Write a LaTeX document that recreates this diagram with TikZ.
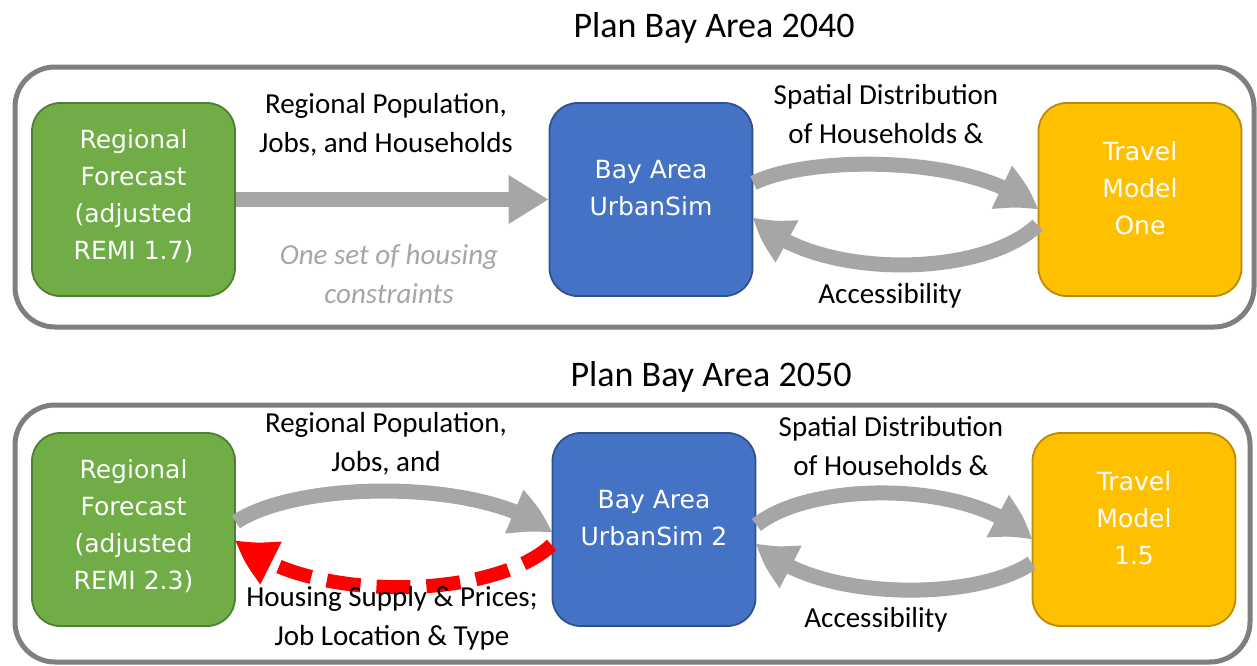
\documentclass[tikz,border=0pt]{standalone}
\usepackage{fontspec}
\setmainfont{Carlito}
\newfontfamily\boxfont{DejaVu Sans}
\usetikzlibrary{arrows.meta,bending}
\definecolor{framegray}{HTML}{7F7F7F}
\definecolor{arrowgray}{HTML}{A6A6A6}
\definecolor{boxgreen}{HTML}{70AD47}
\definecolor{boxgreenline}{HTML}{507E32}
\definecolor{boxblue}{HTML}{4472C4}
\definecolor{boxblueline}{HTML}{2F528F}
\definecolor{boxyellow}{HTML}{FFC000}
\definecolor{boxyellowline}{HTML}{BC8C00}
\definecolor{flowred}{HTML}{FF0000}
\begin{document}
\begin{tikzpicture}[x=1pt,y=-1pt,
  frame/.style={draw=framegray, line width=5pt, rounded corners=40pt},
  box/.style={draw, line width=1.8pt, rounded corners=28pt, minimum width=203pt, minimum height=193pt, inner sep=0pt},
  greenbox/.style={box, fill=boxgreen, draw=boxgreenline},
  bluebox/.style={box, fill=boxblue, draw=boxblueline},
  yellowbox/.style={box, fill=boxyellow, draw=boxyellowline},
  boxtext/.style={text=white, font=\boxfont\fontsize{25}{37}\selectfont, align=center, inner sep=0pt},
  lbl/.style={font=\fontsize{29}{39}\selectfont, align=center, inner sep=0pt},
  note/.style={lbl, text=arrowgray, font=\itshape\fontsize{29}{39}\selectfont},
  ttl/.style={font=\fontsize{36}{42}\selectfont, inner sep=0pt},
  flow/.style={draw=arrowgray, line width=15pt, -{Triangle[length=40pt,width=46pt,bend]}},
  redflow/.style={draw=flowred, line width=14pt, dash pattern=on 34pt off 16pt, -{Triangle[length=40pt,width=46pt,bend]}}
]
\useasboundingbox (0,0) rectangle (1257,665);
\fill[white] (0,0) rectangle (1257,665);

% ---------- top panel ----------
\node[ttl] (t1) at (714,28) {Plan Bay Area 2040};
\draw[frame] (15,67) rectangle (1254,327);

\node[greenbox] (g1) at (133.5,199.5) {};
\node[bluebox] (b1) at (651,199.5) {};
\node[yellowbox] (y1) at (1140,199.5) {};
\node[boxtext] (g1t) at (133.5,196) {Regional\\Forecast\\(adjusted\\REMI 1.7)};
\node[boxtext] (b1t) at (651,188) {Bay Area\\UrbanSim};
\node[boxtext] (y1t) at (1140,188) {Travel\\Model\\One};

\draw[flow] (g1.east) -- (b1.west);
\draw[flow] ([yshift=16.5pt]b1.east) .. controls (810,154.5) and (981,154.5) .. ([yshift=-10.5pt]y1.west);
\draw[flow] ([yshift=-25.5pt]y1.west) .. controls (981,279.5) and (810,279.5) .. ([yshift=-17.5pt]b1.east);

\node[lbl] (l1) at (386,125) {Regional Population,\\Jobs, and Households};
\node[note] (l2) at (389,274) {One set of housing\\constraints};
\node[lbl] (l3) at (886,114) {Spatial Distribution\\of Households \&};
\node[lbl] (l4) at (890,296) {Accessibility};

% ---------- bottom panel ----------
\node[ttl] (t2) at (711,377) {Plan Bay Area 2050};
\draw[frame] (15,405) rectangle (1250,662);

\node[greenbox] (g2) at (133.5,529.5) {};
\node[bluebox] (b2) at (654,529.5) {};
\node[yellowbox] (y2) at (1134,529.5) {};
\node[boxtext] (g2t) at (133.5,526) {Regional\\Forecast\\(adjusted\\REMI 2.3)};
\node[boxtext] (b2t) at (654,518) {Bay Area\\UrbanSim 2};
\node[boxtext] (y2t) at (1134,518) {Travel\\Model\\1.5};

\draw[flow] ([yshift=7.5pt]g2.east) .. controls (300,479) and (490,479) .. ([yshift=-3.5pt]b2.west);
\draw[redflow] ([yshift=-15.5pt]b2.west) .. controls (490,602) and (300,602) .. ([yshift=-10.5pt]g2.east);
\draw[flow] ([yshift=4.5pt]b2.east) .. controls (812,480) and (975,480) .. ([yshift=-10.5pt]y2.west);
\draw[flow] ([yshift=-33.5pt]y2.west) .. controls (975,602) and (812,602) .. ([yshift=-13.5pt]b2.east);

\node[lbl] (l5) at (386,444) {Regional Population,\\Jobs, and};
\node[lbl] (l6) at (392,618) {Housing Supply \& Prices;\\Job Location \& Type};
\node[lbl] (l7) at (891,446) {Spatial Distribution\\of Households \&};
\node[lbl] (l8) at (876,620) {Accessibility};
\end{tikzpicture}
\end{document}
